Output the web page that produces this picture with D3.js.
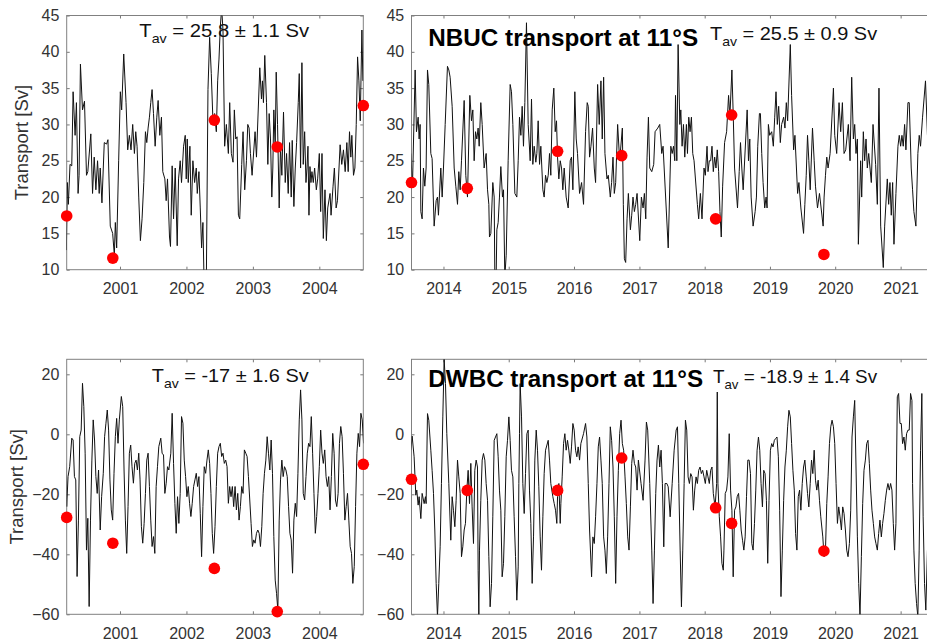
<!DOCTYPE html>
<html>
<head>
<meta charset="utf-8">
<script src="https://cdn.jsdelivr.net/npm/d3@7"></script>
<style>
  body { margin: 0; background: #fff; }
  svg { display: block; }
</style>
</head>
<body>
<svg id="chart" width="927" height="641"></svg>
<script>
// transport series, [decimal year, Sv]
const nbucEarly = [
  [2000.185,17.5],[2000.195,12.7],[2000.210,22],[2000.225,19],[2000.250,24.5],[2000.276,24.3],[2000.296,34.5],[2000.326,28.5],
  [2000.346,33],[2000.371,20.5],[2000.386,23],[2000.406,38.3],[2000.437,32],[2000.467,33.2],[2000.497,23],[2000.517,23.5],
  [2000.562,28.7],[2000.588,20.5],[2000.613,25.5],[2000.638,21],[2000.663,25],[2000.688,20.5],[2000.703,24],[2000.729,19.2],
  [2000.764,27.5],[2000.799,27.3],[2000.819,27.9],[2000.854,16],[2000.890,15],[2000.915,12],[2000.930,16.5],[2000.950,13],
  [2000.980,25],[2001.005,34.5],[2001.025,32],[2001.056,39.7],[2001.091,33],[2001.116,26.5],[2001.141,28.5],[2001.166,26.5],
  [2001.191,30],[2001.217,26],[2001.237,29],[2001.257,27],[2001.282,20],[2001.307,14],[2001.332,17],[2001.358,22],
  [2001.383,29],[2001.403,27.5],[2001.423,29.5],[2001.443,31],[2001.463,33],[2001.483,34.8],[2001.504,31.5],[2001.529,27],
  [2001.554,31],[2001.574,33.3],[2001.599,28.5],[2001.624,31],[2001.644,23.5],[2001.675,22.5],[2001.695,19.5],[2001.715,22.5],
  [2001.745,14.5],[2001.760,13.2],[2001.785,24.3],[2001.806,17],[2001.831,24],[2001.861,13.3],[2001.881,22.5],[2001.906,25],
  [2001.926,22],[2001.957,27],[2001.982,28.5],[2001.997,22.5],[2002.012,28],[2002.027,22],[2002.052,27],[2002.072,17.5],
  [2002.097,25],[2002.123,22],[2002.148,24],[2002.163,20.5],[2002.188,23.5],[2002.208,18.5],[2002.228,13],[2002.248,16.5],
  [2002.268,7],[2002.299,8],[2002.324,34.8],[2002.349,42],[2002.374,37],[2002.399,30.5],[2002.424,31.5],[2002.450,29],
  [2002.470,36],[2002.490,39],[2002.510,43.5],[2002.530,46],[2002.550,43],[2002.575,27],[2002.601,30],[2002.631,26],
  [2002.651,33],[2002.676,26],[2002.701,24.8],[2002.721,32],[2002.742,28],[2002.762,28.3],[2002.782,17.5],[2002.802,17],
  [2002.832,24.5],[2002.852,29],[2002.877,21],[2002.903,25],[2002.923,30],[2002.943,29.5],[2002.963,26],[2002.988,23],
  [2003.033,29],[2003.054,25.5],[2003.104,37.8],[2003.129,33.5],[2003.144,36],[2003.159,33],[2003.179,39.5],[2003.205,33],
  [2003.225,24.5],[2003.245,31.5],[2003.265,28],[2003.285,20],[2003.300,24],[2003.315,32],[2003.336,27],[2003.351,37.2],
  [2003.371,30],[2003.396,18.5],[2003.416,27],[2003.436,23],[2003.461,31.7],[2003.487,22],[2003.507,26],[2003.532,20.5],
  [2003.552,27.5],[2003.577,20],[2003.592,27.8],[2003.617,18.7],[2003.638,24],[2003.658,27.5],[2003.683,33],[2003.698,37],
  [2003.718,24],[2003.738,38.5],[2003.758,24.5],[2003.779,29],[2003.799,22],[2003.814,24],[2003.829,27],[2003.844,17.5],
  [2003.859,24.2],[2003.874,22],[2003.889,23.5],[2003.909,22],[2003.929,24],[2003.955,21],[2003.975,22.5],[2004.000,26],
  [2004.020,18],[2004.040,26],[2004.060,14.3],[2004.085,21],[2004.106,14],[2004.126,18.5],[2004.161,20.5],[2004.176,17.5],
  [2004.206,21.5],[2004.226,24],[2004.252,18.5],[2004.272,19.5],[2004.312,27.2],[2004.337,24.5],[2004.362,26.5],[2004.388,23.5],
  [2004.413,27.5],[2004.433,23.5],[2004.453,29],[2004.473,25.5],[2004.488,28.5],[2004.513,23],[2004.534,24],[2004.554,30],
  [2004.574,39.3],[2004.594,36],[2004.614,30.5],[2004.639,43],[2004.654,36]
];

const nbucLate = [
  [2013.499,26],[2013.525,21.5],[2013.566,37.5],[2013.586,29],[2013.612,31],[2013.627,28],[2013.642,30],[2013.653,18],
  [2013.673,17],[2013.693,24],[2013.714,21.5],[2013.734,24],[2013.755,37.5],[2013.775,35.5],[2013.806,26],[2013.826,25.3],
  [2013.857,16],[2013.888,19.5],[2013.908,20],[2013.923,17.5],[2013.959,24],[2013.980,20],[2014.000,24],[2014.026,30],
  [2014.061,38],[2014.082,37.5],[2014.102,36.5],[2014.133,32.5],[2014.164,24],[2014.189,21.5],[2014.215,19],[2014.235,23.5],
  [2014.256,21],[2014.276,25],[2014.317,33.3],[2014.342,23],[2014.368,20],[2014.404,34],[2014.429,30.5],[2014.450,32],
  [2014.470,25],[2014.491,29],[2014.511,28],[2014.531,29.5],[2014.547,27],[2014.572,33],[2014.593,30],[2014.623,24],
  [2014.654,26],[2014.675,21],[2014.695,19],[2014.705,14.5],[2014.726,15],[2014.756,22],[2014.777,20],[2014.787,9],
  [2014.807,9],[2014.818,15.5],[2014.838,16.5],[2014.858,20],[2014.879,24.2],[2014.904,20],[2014.920,21],[2014.940,9],
  [2014.961,12],[2014.991,25],[2015.022,35.5],[2015.042,34.5],[2015.063,30],[2015.094,20.5],[2015.124,20],[2015.145,25],
  [2015.165,31],[2015.186,28.5],[2015.206,32.5],[2015.226,27],[2015.247,33],[2015.272,44],[2015.298,30],[2015.329,25],
  [2015.349,33.5],[2015.369,24.5],[2015.390,27],[2015.415,24.8],[2015.431,26],[2015.451,30.5],[2015.472,24.5],[2015.492,27],
  [2015.523,21],[2015.543,20],[2015.564,23],[2015.584,22],[2015.605,23],[2015.625,26],[2015.645,23],[2015.666,32],
  [2015.691,35],[2015.712,29],[2015.732,30.5],[2015.748,25.5],[2015.768,22.5],[2015.789,25],[2015.809,24],[2015.829,21],
  [2015.850,24],[2015.880,20],[2015.911,18.5],[2015.942,25],[2015.962,25.5],[2015.983,21],[2016.013,34.5],[2016.034,28],
  [2016.054,26],[2016.085,20.5],[2016.116,22],[2016.146,19],[2016.177,29],[2016.202,33],[2016.218,32.5],[2016.238,25.5],
  [2016.259,27],[2016.284,29.5],[2016.310,24],[2016.330,22],[2016.361,35.5],[2016.386,30],[2016.412,36],[2016.432,28],
  [2016.453,36.5],[2016.473,26],[2016.504,22.5],[2016.524,23],[2016.555,20],[2016.575,22],[2016.596,25.5],[2016.616,20.5],
  [2016.637,22],[2016.667,30],[2016.698,25],[2016.739,29.5],[2016.754,19],[2016.770,11.5],[2016.790,11],[2016.811,17],
  [2016.831,20.5],[2016.862,15.5],[2016.882,17.5],[2016.902,20],[2016.923,18],[2016.943,19],[2016.964,20.5],[2017.005,14],
  [2017.030,20],[2017.056,18.5],[2017.076,20.5],[2017.097,17],[2017.117,25.5],[2017.138,31],[2017.158,24],[2017.189,23.5],
  [2017.219,24.5],[2017.240,29],[2017.281,29.5],[2017.311,30],[2017.342,26],[2017.362,27],[2017.441,13],[2017.481,27],
  [2017.502,26],[2017.522,27],[2017.542,25],[2017.553,34],[2017.573,25],[2017.593,41],[2017.619,30],[2017.634,32],
  [2017.654,27],[2017.675,30],[2017.695,25.5],[2017.720,30],[2017.736,26],[2017.756,31],[2017.776,29],[2017.797,31],
  [2017.817,26],[2017.837,25],[2017.888,19],[2017.908,17],[2017.934,20.5],[2017.959,17],[2017.990,24],[2018.010,23],
  [2018.036,27],[2018.051,23.5],[2018.071,25],[2018.092,25],[2018.112,27],[2018.132,23.5],[2018.153,25.5],[2018.173,24],
  [2018.193,26.5],[2018.214,23.5],[2018.234,18],[2018.254,14.5],[2018.275,21.5],[2018.305,27.5],[2018.336,29],[2018.366,34],
  [2018.386,31],[2018.417,37.5],[2018.437,31.5],[2018.458,24],[2018.503,18.5],[2018.529,23.5],[2018.549,27.5],[2018.569,24],
  [2018.590,21],[2018.651,32],[2018.671,25],[2018.691,28],[2018.712,20],[2018.742,16],[2018.773,18],[2018.793,20],
  [2018.813,27],[2018.839,31.5],[2018.854,31.5],[2018.874,26],[2018.895,22],[2018.920,18.5],[2018.941,20],[2018.956,18.5],
  [2018.976,30],[2018.996,28.5],[2019.027,29],[2019.052,27],[2019.073,31],[2019.093,34.5],[2019.113,30],[2019.134,32.5],
  [2019.159,27.5],[2019.179,30],[2019.210,31],[2019.230,29.5],[2019.251,33],[2019.271,30.5],[2019.312,41],[2019.332,34],
  [2019.363,26.5],[2019.383,28.5],[2019.424,20.5],[2019.444,22],[2019.474,18.5],[2019.515,15],[2019.535,19],[2019.556,23],
  [2019.576,28.5],[2019.596,25],[2019.617,21],[2019.652,29.5],[2019.678,25],[2019.698,21.5],[2019.729,18.5],[2019.759,20.5],
  [2019.815,16],[2019.830,20],[2019.851,23],[2019.871,25.5],[2019.891,24],[2019.922,26],[2019.973,35],[2019.993,28.5],
  [2020.023,26],[2020.059,33],[2020.084,29],[2020.110,33],[2020.135,26],[2020.161,26.5],[2020.201,30],[2020.227,25],
  [2020.252,36.5],[2020.278,28],[2020.298,30],[2020.318,26],[2020.339,28],[2020.354,13.5],[2020.389,25],[2020.405,20],
  [2020.430,29],[2020.450,25],[2020.471,28],[2020.491,24],[2020.512,26],[2020.552,22],[2020.578,30],[2020.618,24.5],
  [2020.644,19],[2020.669,35],[2020.695,16],[2020.735,10.3],[2020.756,16],[2020.796,22.5],[2020.817,19],[2020.837,22],
  [2020.857,17.5],[2020.878,22],[2020.898,13.5],[2020.928,20.5],[2020.959,27],[2020.979,28.5],[2021.000,27],[2021.020,28.5],
  [2021.040,27],[2021.061,30],[2021.081,26.5],[2021.112,33],[2021.132,33],[2021.162,24],[2021.183,21],[2021.203,18],
  [2021.234,16],[2021.264,26],[2021.285,28.5],[2021.305,27],[2021.336,31],[2021.381,36],[2021.411,28.5]
];

const dwbcEarly = [
  [2000.185,-9.7],[2000.200,-24.1],[2000.220,-14.1],[2000.245,-10.8],[2000.276,-1.3],[2000.296,-1.9],[2000.316,-14.1],[2000.336,-15.2],
  [2000.356,-47.4],[2000.376,-28.6],[2000.396,-0.8],[2000.417,1.4],[2000.437,17],[2000.457,9.2],[2000.477,-6.3],[2000.497,-38.6],
  [2000.517,-28],[2000.537,-57.4],[2000.557,-28.6],[2000.578,-8.6],[2000.598,4.8],[2000.618,-1.9],[2000.638,-14.1],[2000.658,-19.7],
  [2000.678,-11.9],[2000.703,-31.9],[2000.724,-20.8],[2000.749,-13],[2000.769,-0.8],[2000.789,3.7],[2000.809,8.1],[2000.829,1.4],
  [2000.849,-15.2],[2000.869,-25.2],[2000.890,-28.6],[2000.910,-13],[2000.930,-0.8],[2000.950,5.3],[2000.970,-3],[2000.990,4.8],
  [2001.020,12.6],[2001.041,9.2],[2001.061,-11.9],[2001.081,-28.6],[2001.101,-39.7],[2001.121,-24.1],[2001.141,-6.3],[2001.161,-3.6],
  [2001.181,-10.8],[2001.202,-16.3],[2001.222,-9.7],[2001.242,-8.6],[2001.262,-11.9],[2001.282,-6.3],[2001.302,-15.2],[2001.322,-30.8],
  [2001.342,-36.3],[2001.363,-29.7],[2001.383,-19.7],[2001.403,-8.6],[2001.423,-6.3],[2001.443,-17.4],[2001.463,-28.6],[2001.483,-37.4],
  [2001.504,-34.1],[2001.524,-39.7],[2001.544,-17.4],[2001.564,-10.8],[2001.584,-4.1],[2001.614,-1.3],[2001.634,-6.3],[2001.655,-6.9],
  [2001.675,-19.7],[2001.695,-16.3],[2001.715,-10.8],[2001.735,-11.9],[2001.765,-6.3],[2001.785,7],[2001.806,-9.7],[2001.826,-23],
  [2001.846,-33],[2001.866,-20.8],[2001.886,-29.7],[2001.906,-19.7],[2001.926,5.9],[2001.947,3.7],[2001.967,-8.6],[2001.987,-14.1],
  [2002.007,-20.8],[2002.027,-17.4],[2002.047,-23],[2002.067,-27.4],[2002.087,-23],[2002.108,-17.4],[2002.128,-15.2],[2002.148,-13],
  [2002.168,-17.4],[2002.188,-14.1],[2002.208,-26.3],[2002.228,-40.8],[2002.248,-24.1],[2002.268,-10.8],[2002.289,-13],[2002.309,-8.6],
  [2002.329,-5.2],[2002.349,-9.7],[2002.369,-19.7],[2002.389,-33],[2002.409,-39.7],[2002.430,-30.8],[2002.450,-17.4],[2002.470,-6.3],
  [2002.490,-4.1],[2002.510,-3],[2002.530,-7.4],[2002.550,-6.3],[2002.570,-9.7],[2002.591,-8.6],[2002.611,-10.8],[2002.631,-23],
  [2002.651,-17.4],[2002.671,-20.8],[2002.691,-17.4],[2002.711,-24.1],[2002.732,-17.4],[2002.752,-25.2],[2002.772,-19.7],[2002.792,-28.6],
  [2002.812,-24.1],[2002.832,-17.4],[2002.852,-19.7],[2002.872,-5.2],[2002.893,-6.3],[2002.913,-7.4],[2002.933,-14.1],[2002.953,-21.9],
  [2002.973,-29.7],[2002.993,-37.4],[2003.013,-35.2],[2003.033,-36.3],[2003.054,-33],[2003.074,-31.9],[2003.094,-33],[2003.114,-37.4],
  [2003.134,-30.8],[2003.154,-19.7],[2003.174,-13],[2003.195,-8.6],[2003.215,-0.8],[2003.235,-6.3],[2003.255,-11.9],[2003.275,-1.9],
  [2003.295,-13],[2003.315,-34.1],[2003.336,-48.6],[2003.356,-53],[2003.376,-58.6],[2003.396,-28.6],[2003.416,-15.2],[2003.436,-8.6],
  [2003.456,-14.1],[2003.476,-10.8],[2003.497,-11.9],[2003.517,-14.1],[2003.537,-24.1],[2003.557,-33],[2003.577,-35.2],[2003.597,-46.3],
  [2003.617,-28.6],[2003.638,-23],[2003.658,-27.4],[2003.678,-13],[2003.698,4.8],[2003.718,14.8],[2003.738,4.8],[2003.758,-19.7],
  [2003.779,-21.9],[2003.799,-14.1],[2003.819,-6.3],[2003.839,-3],[2003.859,-4.1],[2003.879,5.9],[2003.899,-6.3],[2003.919,-19.7],
  [2003.940,-33],[2003.960,-27.4],[2003.980,-19.7],[2004.000,-10.8],[2004.020,1.4],[2004.040,-6.3],[2004.060,-9.7],[2004.081,-5.2],
  [2004.101,-14.1],[2004.121,-17.4],[2004.141,-14.1],[2004.161,-25.2],[2004.181,-14.1],[2004.201,0.3],[2004.222,-6.3],[2004.242,-21.9],
  [2004.262,-24.1],[2004.282,-19.7],[2004.302,-3],[2004.322,2.6],[2004.342,-0.8],[2004.362,-13],[2004.383,-28.6],[2004.403,-24.1],
  [2004.423,-19.7],[2004.443,-28.6],[2004.463,-37.4],[2004.483,-39.7],[2004.503,-49.7],[2004.524,-44.1],[2004.544,-24.1],[2004.564,-6.3],
  [2004.584,0.3],[2004.604,-4.1],[2004.624,7],[2004.644,4.8],[2004.664,-3]
];

const dwbcLate = [
  [2013.499,-5.3],[2013.520,-0.6],[2013.550,-7.5],[2013.576,-20.3],[2013.591,-18.6],[2013.612,-23.6],[2013.627,-20.8],[2013.653,-28.1],
  [2013.673,-19.7],[2013.704,-23.1],[2013.724,-20.8],[2013.734,-23.1],[2013.755,6.9],[2013.775,4.7],[2013.806,-5.3],[2013.826,-12],
  [2013.847,-19.7],[2013.867,-31.9],[2013.888,-49.7],[2013.908,-60.8],[2013.928,-49.7],[2013.949,-37.5],[2013.969,-16.4],[2013.990,5.8],
  [2014.010,25],[2014.031,16.9],[2014.051,0.2],[2014.082,-16.4],[2014.112,-35.3],[2014.133,-20.8],[2014.153,-25.3],[2014.174,-30.8],
  [2014.194,-22],[2014.215,-8.6],[2014.235,-14.2],[2014.256,-19.7],[2014.276,-40.8],[2014.296,-37.5],[2014.317,-31.9],[2014.337,-29.7],
  [2014.358,-18.6],[2014.378,-12],[2014.399,-23.1],[2014.419,-9.7],[2014.439,-24.2],[2014.460,-36.4],[2014.480,-12],[2014.501,-8.6],
  [2014.521,-10.9],[2014.531,-45.3],[2014.542,-60.8],[2014.552,-38.6],[2014.572,-22],[2014.593,-8.6],[2014.613,-6.4],[2014.634,-8.6],
  [2014.654,-16.4],[2014.675,-22],[2014.695,-40.8],[2014.715,-57.5],[2014.736,-49.7],[2014.756,-27.5],[2014.777,-2],[2014.797,-0.9],
  [2014.818,0.2],[2014.838,-7.5],[2014.858,-18.6],[2014.879,-25.3],[2014.899,-47.5],[2014.920,-43],[2014.940,-27.5],[2014.961,-7.5],
  [2014.981,-2],[2015.002,5.8],[2015.022,-2],[2015.042,-12],[2015.063,-14.2],[2015.083,-27.5],[2015.104,-40.8],[2015.124,-55.3],
  [2015.145,-44.2],[2015.155,-16.4],[2015.165,0.2],[2015.175,16.9],[2015.196,5.8],[2015.216,-16.4],[2015.237,-26.4],[2015.257,-13.1],
  [2015.278,0.2],[2015.298,1.4],[2015.318,-18.6],[2015.339,-29.7],[2015.359,-49.7],[2015.380,-34.2],[2015.400,-8.6],[2015.421,1.4],
  [2015.441,-5.3],[2015.461,-17.5],[2015.482,-34.2],[2015.502,-45.3],[2015.523,-27.5],[2015.543,-13.1],[2015.564,-5.3],[2015.605,-2],
  [2015.625,-8.6],[2015.645,-16.4],[2015.676,-20.8],[2015.697,-23.1],[2015.717,-25.3],[2015.737,-29.7],[2015.748,-20.8],[2015.768,-16.4],
  [2015.789,-29.7],[2015.799,-23.1],[2015.819,-14.2],[2015.840,-3.1],[2015.860,0.2],[2015.880,-5.3],[2015.901,-2],[2015.921,-5.3],
  [2015.942,-9.7],[2015.962,-4.2],[2015.983,3.6],[2016.003,1.4],[2016.024,-5.3],[2016.044,-7.5],[2016.064,-4.2],[2016.085,-8.6],
  [2016.105,-3.1],[2016.146,0.2],[2016.177,3.6],[2016.197,-0.9],[2016.218,-16.4],[2016.238,-31.9],[2016.269,-47.5],[2016.289,-34.2],
  [2016.310,-36.4],[2016.330,-27.5],[2016.351,-16.4],[2016.371,-4.2],[2016.391,-0.9],[2016.412,-8.6],[2016.432,-16.4],[2016.453,-34.2],
  [2016.473,-38.6],[2016.494,-46.4],[2016.514,-34.2],[2016.535,-16.4],[2016.555,2.5],[2016.575,-2],[2016.596,-10.9],[2016.616,-27.5],
  [2016.637,-49.7],[2016.657,-27.5],[2016.678,-12],[2016.698,0.2],[2016.719,4.7],[2016.739,-3.1],[2016.759,-5.3],[2016.780,-14.2],
  [2016.800,-23.1],[2016.821,-34.2],[2016.841,-38.6],[2016.862,-24.2],[2016.882,-9.7],[2016.902,-5.3],[2016.923,-9.7],[2016.943,-10.9],
  [2016.964,-18.6],[2016.984,-8.6],[2017.025,-16.4],[2017.056,-22],[2017.086,-8.6],[2017.107,4.1],[2017.127,1.4],[2017.158,-16.4],
  [2017.189,-38.6],[2017.209,-56.4],[2017.230,-38.6],[2017.250,-19.7],[2017.270,-8.6],[2017.291,-3.6],[2017.311,-10.9],[2017.332,-5.3],
  [2017.352,-16.4],[2017.373,-37.5],[2017.393,-16.4],[2017.420,-16.4],[2017.441,-17.5],[2017.471,-27.5],[2017.502,-16.4],[2017.532,-5.3],
  [2017.563,1.4],[2017.583,2.5],[2017.603,-16.4],[2017.624,-38.6],[2017.644,-57.5],[2017.664,-38.6],[2017.685,-16.4],[2017.705,4.7],
  [2017.725,1.4],[2017.746,-14.2],[2017.766,-16.4],[2017.786,-13.1],[2017.807,-14.2],[2017.827,-25.3],[2017.847,-18.6],[2017.868,-14.2],
  [2017.888,-16.4],[2017.908,-12],[2017.929,-10.9],[2017.949,-13.1],[2017.969,-12],[2017.990,-14.2],[2018.010,-16.4],[2018.031,-12],
  [2018.051,-14.2],[2018.071,-16.4],[2018.092,-12],[2018.112,-10.9],[2018.132,-19.7],[2018.153,-23.1],[2018.163,-23.1],[2018.183,-16.4],
  [2018.193,14.1],[2018.203,-16.4],[2018.224,-27.5],[2018.244,-34.2],[2018.264,-43],[2018.285,-45.3],[2018.295,-38.6],[2018.315,-19.7],
  [2018.336,-18.6],[2018.356,-14.2],[2018.376,0.2],[2018.397,-18.6],[2018.417,-25.3],[2018.437,-47.5],[2018.458,-25.3],[2018.478,-24.2],
  [2018.498,-20.8],[2018.519,-19.7],[2018.539,-25.3],[2018.559,-31.9],[2018.580,-35.3],[2018.600,-38.6],[2018.620,-34.2],[2018.641,-20.8],
  [2018.661,-8.6],[2018.681,-8.6],[2018.702,-13.1],[2018.722,-36.4],[2018.742,-38.6],[2018.763,-29.7],[2018.783,-18.6],[2018.803,-5.3],
  [2018.824,-0.9],[2018.844,-5.3],[2018.864,-16.4],[2018.885,-24.2],[2018.905,-12],[2018.925,-13.1],[2018.946,-22],[2018.966,-43],
  [2018.986,-22],[2019.007,-5.3],[2019.027,-3.1],[2019.047,-4.2],[2019.068,-2],[2019.088,-1.4],[2019.108,-0.9],[2019.129,-7.5],
  [2019.149,-25.3],[2019.169,-54.1],[2019.190,-38.6],[2019.210,-22],[2019.230,-10.9],[2019.251,-5.3],[2019.271,2.5],[2019.291,8],
  [2019.312,5.8],[2019.332,-3.1],[2019.352,-12],[2019.373,-18.6],[2019.393,-33.1],[2019.413,-38.6],[2019.434,-20.8],[2019.454,-18.6],
  [2019.474,-25.3],[2019.495,-16.4],[2019.515,-10.9],[2019.535,-8.6],[2019.556,-14.2],[2019.576,-19.7],[2019.596,-24.2],[2019.617,-16.4],
  [2019.637,-8.6],[2019.657,-13.1],[2019.678,-5.3],[2019.698,-15.3],[2019.718,-18.6],[2019.739,-15.3],[2019.759,-22],[2019.779,-27.5],
  [2019.810,-34.2],[2019.830,-40.8],[2019.851,-38.6],[2019.871,-23.1],[2019.891,-14.2],[2019.912,-3.1],[2019.932,2.5],[2019.952,4.7],
  [2019.973,2.5],[2019.993,-3.1],[2020.013,-16.4],[2020.034,-29.7],[2020.054,-24.2],[2020.074,-27.5],[2020.095,-31.9],[2020.115,-24.2],
  [2020.135,-26.4],[2020.156,-31.9],[2020.176,-38.6],[2020.196,-40.8],[2020.217,-36.4],[2020.237,-25.3],[2020.257,-0.9],[2020.278,5.8],
  [2020.298,11.3],[2020.318,-10.9],[2020.339,-34.2],[2020.359,-49.7],[2020.379,-60.8],[2020.400,-40.8],[2020.420,-23.1],[2020.440,-12],
  [2020.461,-8.6],[2020.481,-3.1],[2020.501,-2],[2020.522,-9.7],[2020.542,-18.6],[2020.562,-25.3],[2020.583,-29.7],[2020.603,-34.2],
  [2020.623,-36.4],[2020.644,-38.6],[2020.664,-33.1],[2020.684,-28.6],[2020.705,-34.2],[2020.725,-29.7],[2020.745,-26.4],[2020.766,-22],
  [2020.786,-18.6],[2020.806,-16.4],[2020.827,-18.6],[2020.847,-16.4],[2020.867,-18.6],[2020.888,-29.7],[2020.908,-38.6],[2020.928,-29.7],
  [2020.949,12.5],[2020.969,13.6],[2020.990,3.6],[2021.010,3.6],[2021.030,-3.1],[2021.051,-0.9],[2021.071,-5.3],[2021.091,0.2],
  [2021.112,1.4],[2021.132,1.4],[2021.152,13.6],[2021.173,11.3],[2021.183,-16.4],[2021.203,-38.6],[2021.223,-49.7],[2021.244,-56.4],
  [2021.264,-60.8],[2021.284,-38.6],[2021.305,-5.3],[2021.325,13.6],[2021.345,-27.5],[2021.366,-49.7],[2021.386,-58.6],[2021.411,-38.6]
];

// red markers
const nbucEarlyDots = [[2000.20,17.4],[2000.892,11.6],[2002.42,30.6],[2003.367,26.9],[2004.66,32.6]];
const dwbcEarlyDots = [[2000.20,-27.7],[2000.892,-36.3],[2002.42,-44.7],[2003.367,-59.1],[2004.66,-10]];
const nbucLateDots = [[2013.51,22.0],[2014.365,21.2],[2015.749,26.3],[2016.729,25.7],[2018.168,17.0],[2018.413,31.3],[2019.827,12.1]];
const dwbcLateDots = [[2013.51,-15.0],[2014.365,-18.7],[2015.749,-18.7],[2016.729,-7.9],[2018.168,-24.5],[2018.413,-29.7],[2019.827,-38.9]];

const nbucTicks = [10, 15, 20, 25, 30, 35, 40, 45];
const dwbcTicks = [-60, -40, -20, 0, 20];
const tavText = ["25.8 ± 1.1 Sv", "25.5 ± 0.9 Sv", "-17 ± 1.6 Sv", "-18.9 ± 1.4 Sv"];
const titles = ["NBUC transport at 11°S", "DWBC transport at 11°S"];

const FONT = "'Liberation Sans', Arial, Helvetica, sans-serif";
const svg = d3.select('#chart');

function toDate(y) {
    const yr = Math.floor(y);
    const s = Date.UTC(yr, 0, 1), e = Date.UTC(yr + 1, 0, 1);
    return new Date(s + (y - yr) * (e - s));
}

// stretch a text horizontally to the width measured on the figure
function fitWidth(sel, x, y, w) {
    const bw = sel.node().getBBox().width;
    sel.attr('transform', `translate(${x},${y}) scale(${w / bw},1)`);
}

const panels = [
    {x0: 66.7, x1: 363.3, y0: 15.5, y1: 269.7, t: [2000.20, 2004.66], v: [10, 45], ticks: nbucTicks,
     data: nbucEarly, dots: nbucEarlyDots, ylab: {x: 21.7, y: 142.6}, tav: {s: tavText[0], x: 139.3, y: 37.3, w: 170.7}},
    {x0: 411.5, x1: 930, y0: 15.5, y1: 269.7, t: [2013.51, 2021.45], v: [10, 45], ticks: nbucTicks,
     data: nbucLate, dots: nbucLateDots, title: {s: titles[0], x: 428.3, y: 46, w: 270},
     tav: {s: tavText[1], x: 710, y: 40, w: 168}},
    {x0: 66.7, x1: 363.3, y0: 359.3, y1: 614.3, t: [2000.20, 2004.66], v: [-60, 25], ticks: dwbcTicks,
     data: dwbcEarly, dots: dwbcEarlyDots, ylab: {x: 16.7, y: 486.8}, tav: {s: tavText[2], x: 151.7, y: 382.3, w: 158}},
    {x0: 411.5, x1: 930, y0: 359.3, y1: 614.3, t: [2013.51, 2021.45], v: [-60, 25], ticks: dwbcTicks,
     data: dwbcLate, dots: dwbcLateDots, title: {s: titles[1], x: 428.3, y: 386.7, w: 275},
     tav: {s: tavText[3], x: 713, y: 383.3, w: 165}}
];

panels.forEach((p, i) => {
    const x = d3.scaleUtc().domain(p.t.map(toDate)).range([p.x0, p.x1]);
    const y = d3.scaleLinear().domain(p.v).range([p.y1, p.y0]);
    const g = svg.append('g');

    g.append('clipPath').attr('id', 'clip' + i)
        .append('rect')
        .attr('x', p.x0).attr('y', p.y0)
        .attr('width', p.x1 - p.x0).attr('height', p.y1 - p.y0);

    const years = d3.utcYear.every(1);
    const styleAxis = a => {
        a.select('.domain').remove();
        a.selectAll('line').attr('stroke', '#555').attr('stroke-width', 0.8);
        a.selectAll('text').attr('fill', '#333').style('font-family', FONT).style('font-size', '16px');
    };

    g.append('g').attr('transform', `translate(0,${p.y1})`)
        .call(d3.axisBottom(x).ticks(years).tickFormat(d3.utcFormat('%Y')).tickSizeInner(-3).tickSizeOuter(0).tickPadding(13))
        .call(styleAxis);
    g.append('g').attr('transform', `translate(0,${p.y0})`)
        .call(d3.axisTop(x).ticks(years).tickFormat('').tickSizeInner(-3).tickSizeOuter(0))
        .call(styleAxis);
    g.append('g').attr('transform', `translate(${p.x0},0)`)
        .call(d3.axisLeft(y).tickValues(p.ticks).tickSizeInner(-3).tickSizeOuter(0).tickPadding(7.3))
        .call(styleAxis);
    g.append('g').attr('transform', `translate(${p.x1},0)`)
        .call(d3.axisRight(y).tickValues(p.ticks).tickFormat('').tickSizeInner(-3).tickSizeOuter(0))
        .call(styleAxis);

    g.append('rect')
        .attr('x', p.x0).attr('y', p.y0)
        .attr('width', p.x1 - p.x0).attr('height', p.y1 - p.y0)
        .attr('fill', 'none').attr('stroke', '#808080').attr('stroke-width', 1);

    if (p.title) {
        const tt = g.append('text')
            .style('font-family', FONT).style('font-size', '23px').style('font-weight', 'bold')
            .attr('fill', '#000').text(p.title.s);
        fitWidth(tt, p.title.x, p.title.y, p.title.w);
    }

    const tav = g.append('text')
        .style('font-family', FONT).style('font-size', '18.5px').attr('fill', '#111');
    tav.append('tspan').text('T');
    tav.append('tspan').attr('dy', 5.5).style('font-size', '13px').text('av');
    tav.append('tspan').attr('dy', -5.5).text(' = ' + p.tav.s);
    fitWidth(tav, p.tav.x, p.tav.y, p.tav.w);

    if (p.ylab) {
        g.append('text')
            .attr('transform', `translate(${p.ylab.x},${p.ylab.y}) rotate(-90)`)
            .attr('text-anchor', 'middle').attr('dy', '0.35em')
            .style('font-family', FONT).style('font-size', '18.5px').attr('fill', '#333')
            .text('Transport [Sv]');
    }

    const line = d3.line()
        .x(d => x(toDate(d[0])))
        .y(d => y(d[1]));

    g.append('path')
        .datum(p.data)
        .attr('clip-path', `url(#clip${i})`)
        .attr('d', line)
        .attr('fill', 'none')
        .attr('stroke', '#111')
        .attr('stroke-width', 1)
        .attr('stroke-linejoin', 'round');

    g.selectAll('circle.dot')
        .data(p.dots)
        .enter()
        .append('circle')
        .attr('class', 'dot')
        .attr('cx', d => x(toDate(d[0])))
        .attr('cy', d => y(d[1]))
        .attr('r', 5.8)
        .attr('fill', '#ff0000');
});
</script>
</body>
</html>
